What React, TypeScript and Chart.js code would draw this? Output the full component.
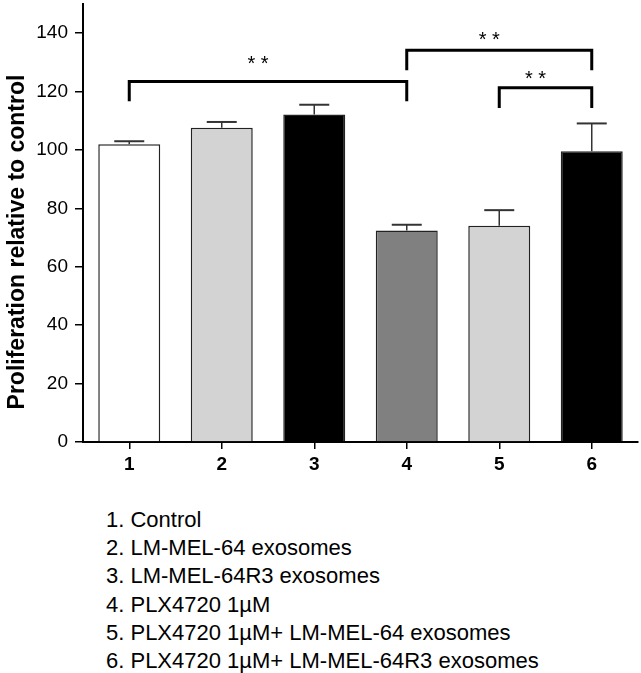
import React, { useEffect, useRef } from "react";
import { Chart, registerables } from "chart.js";

Chart.register(...registerables);

// ---- Data ----
const categories = ["1", "2", "3", "4", "5", "6"];
const means = [102.0, 107.6, 112.2, 72.4, 74.1, 99.6];
const errors = [1.0, 2.0, 3.3, 2.0, 5.3, 9.5];
const barColors = ["#ffffff", "#d3d3d3", "#000000", "#808080", "#d3d3d3", "#000000"];
const yTickValues = [0, 20, 40, 60, 80, 100, 120, 140];
const yMax = 150;
const yTitle = "Proliferation relative to control";

// significance brackets (category indices, values)
const bracketFrom = [0, 3, 4];
const bracketTo = [3, 5, 5];
const bracketTop = [123.5, 134.2, 121.3];
const bracketLegEnd = [116.7, 127.3, 114.4];
const bracketStarY = [131.1, 139.4, 125.9];
const bracketLabels = ["* *", "* *", "* *"];

const legendItems = [
  "1. Control",
  "2. LM-MEL-64 exosomes",
  "3. LM-MEL-64R3 exosomes",
  "4. PLX4720 1µM",
  "5. PLX4720 1µM+ LM-MEL-64 exosomes",
  "6. PLX4720 1µM+ LM-MEL-64R3 exosomes",
];

const FONT = "'Liberation Sans', Arial, Helvetica, sans-serif";
const CANVAS_W = 641;
const CANVAS_H = 490;

const errorBarPlugin = {
  id: "errorBars",
  afterDatasetsDraw(chart: any) {
    const meta = chart.getDatasetMeta(0);
    const ys = chart.scales.y;
    const ctx = chart.ctx;
    ctx.save();
    meta.data.forEach((bar: any, i: number) => {
      const x = bar.x;
      const yBase = ys.getPixelForValue(means[i]);
      const yTop = ys.getPixelForValue(means[i] + errors[i]);
      ctx.strokeStyle = "#333";
      ctx.lineWidth = 1.5;
      ctx.beginPath();
      ctx.moveTo(x, yBase);
      ctx.lineTo(x, yTop);
      ctx.stroke();
      ctx.lineWidth = 2;
      ctx.beginPath();
      ctx.moveTo(x - 15, yTop);
      ctx.lineTo(x + 15, yTop);
      ctx.stroke();
    });
    ctx.restore();
  },
};

const bracketPlugin = {
  id: "brackets",
  afterDatasetsDraw(chart: any) {
    const xs = chart.scales.x;
    const ys = chart.scales.y;
    const ctx = chart.ctx;
    ctx.save();
    for (let i = 0; i < bracketFrom.length; i++) {
      const x1 = xs.getPixelForValue(bracketFrom[i]);
      const x2 = xs.getPixelForValue(bracketTo[i]);
      const yT = ys.getPixelForValue(bracketTop[i]);
      const yL = ys.getPixelForValue(bracketLegEnd[i]);
      ctx.strokeStyle = "#000";
      ctx.lineWidth = 3;
      ctx.lineJoin = "miter";
      ctx.lineCap = "butt";
      ctx.beginPath();
      ctx.moveTo(x1, yL);
      ctx.lineTo(x1, yT);
      ctx.lineTo(x2, yT);
      ctx.lineTo(x2, yL);
      ctx.stroke();
      const sy = ys.getPixelForValue(bracketStarY[i]);
      ctx.fillStyle = "#000";
      ctx.font = `20px ${FONT}`;
      ctx.textAlign = "center";
      ctx.textBaseline = "alphabetic";
      ctx.fillText(bracketLabels[i], (x1 + x2) / 2 - 10, sy + 11);
    }
    ctx.restore();
  },
};

const yTitlePlugin = {
  id: "yTitle",
  afterDraw(chart: any) {
    const ctx = chart.ctx;
    const area = chart.chartArea;
    ctx.save();
    ctx.translate(18, (area.top + area.bottom) / 2 + 19);
    ctx.rotate(-Math.PI / 2);
    ctx.font = `bold 23px ${FONT}`;
    ctx.fillStyle = "#000";
    ctx.textAlign = "center";
    ctx.textBaseline = "middle";
    ctx.fillText(yTitle, 0, 0);
    ctx.restore();
  },
};

export default function App() {
  const ref = useRef<HTMLCanvasElement>(null);

  useEffect(() => {
    if (!ref.current) return;
    const chart = new Chart(ref.current, {
      type: "bar",
      data: {
        labels: categories,
        datasets: [
          {
            data: means,
            backgroundColor: barColors,
            borderColor: "#222",
            borderWidth: 1.5,
            categoryPercentage: 1,
            barPercentage: 0.67,
          },
        ],
      },
      options: {
        responsive: false,
        animation: false,
        layout: { padding: { top: 4, right: 3, left: 0, bottom: 0 } },
        plugins: {
          legend: { display: false },
          tooltip: { enabled: false },
        },
        scales: {
          x: {
            offset: true,
            grid: {
              display: true,
              offset: false,
              drawOnChartArea: false,
              drawTicks: true,
              tickLength: 7,
              color: "#000",
              lineWidth: 1.5,
            },
            border: { display: true, color: "#000", width: 2 },
            ticks: {
              color: "#000",
              padding: 4,
              font: { family: FONT, size: 19, weight: "bold" },
            },
            afterFit: (scale: any) => {
              scale.height = CANVAS_H - 442;
              scale.paddingLeft = 0;
              scale.paddingRight = 0;
            },
          },
          y: {
            min: 0,
            max: yMax,
            afterBuildTicks: (scale: any) => {
              scale.ticks = yTickValues.map((v) => ({ value: v }));
            },
            grid: {
              display: true,
              drawOnChartArea: false,
              drawTicks: true,
              tickLength: 8,
              color: "#000",
              lineWidth: 1.5,
            },
            border: { display: true, color: "#000", width: 2 },
            ticks: {
              color: "#000",
              padding: 7,
              font: { family: FONT, size: 19 },
            },
            title: { display: false, text: yTitle },
            afterFit: (scale: any) => {
              scale.width = 83;
              scale.paddingTop = 0;
              scale.paddingBottom = 0;
            },
          },
        },
      },
      plugins: [errorBarPlugin, bracketPlugin, yTitlePlugin],
    });
    return () => chart.destroy();
  }, []);

  return (
    <div
      style={{
        position: "absolute",
        left: 0,
        top: 0,
        width: CANVAS_W,
        height: 673,
        background: "#fff",
        overflow: "hidden",
      }}
    >
      <canvas ref={ref} width={CANVAS_W} height={CANVAS_H} style={{ display: "block" }} />
      <div
        style={{
          position: "absolute",
          left: 106,
          top: 506,
          fontFamily: FONT,
          fontSize: 22,
          lineHeight: "28.2px",
          color: "#000",
          whiteSpace: "nowrap",
        }}
      >
        {legendItems.map((t, i) => (
          <div key={i}>{t}</div>
        ))}
      </div>
    </div>
  );
}
